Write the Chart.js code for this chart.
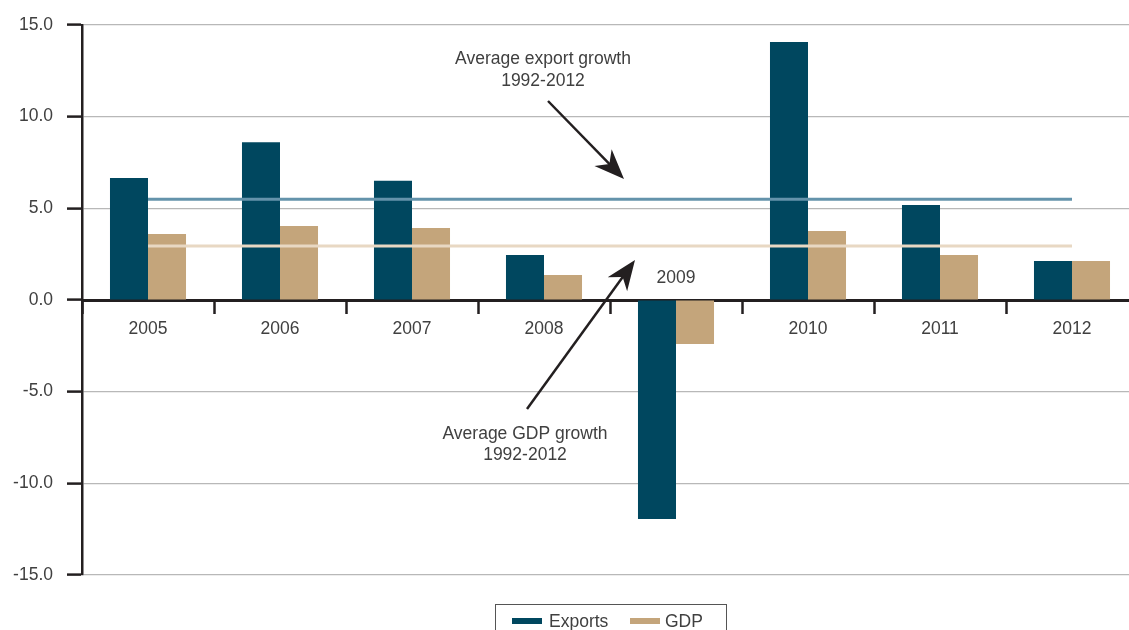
<!DOCTYPE html>
<html>
<head>
<meta charset="utf-8">
<script src="https://cdn.jsdelivr.net/npm/chart.js@4/dist/chart.umd.min.js"></script>
<style>
  html, body { margin: 0; padding: 0; background: #fff; overflow: hidden; }
  #wrap { width: 1140px; height: 640px; }
</style>
</head>
<body>
<div id="wrap"><canvas id="growthChart" width="1140" height="640"></canvas></div>
<script>
// Data
const years = ['2005', '2006', '2007', '2008', '2009', '2010', '2011', '2012'];
const exportsGrowth = [6.65, 8.6, 6.5, 2.45, -11.95, 14.07, 5.18, 2.13];
const gdpGrowth = [3.6, 4.04, 3.93, 1.36, -2.4, 3.76, 2.45, 2.13];
const avgExportGrowth = 5.5;
const avgGdpGrowth = 2.95;
const yTicks = [-15, -10, -5, 0, 5, 10, 15];

const FONT = '"Liberation Sans", Arial, sans-serif';
const FSIZE = 17.5;
const TEXT = '#404040';
const DARK = '#231f20';

// arrow helper
function arrow(ctx, x1, y1, x2, y2) {
    const ang = Math.atan2(y2 - y1, x2 - x1);
    const len = 30, half = 12;
    const cos = Math.cos(ang), sin = Math.sin(ang);
    const bx = x2 - len * cos, by = y2 - len * sin;
    ctx.save();
    ctx.strokeStyle = DARK;
    ctx.fillStyle = DARK;
    ctx.lineWidth = 2.5;
    ctx.beginPath();
    ctx.moveTo(x1, y1);
    ctx.lineTo(bx + 10 * cos, by + 10 * sin);
    ctx.stroke();
    ctx.beginPath();
    ctx.moveTo(x2, y2);
    ctx.lineTo(bx + half * sin, by - half * cos);
    ctx.lineTo(bx + 9 * cos, by + 9 * sin);
    ctx.lineTo(bx - half * sin, by + half * cos);
    ctx.closePath();
    ctx.fill();
    ctx.restore();
}

const extras = {
    id: 'extras',
    afterDraw(chart) {
        const ctx = chart.ctx;
        const x = chart.scales.x, y = chart.scales.y;
        ctx.save();
        ctx.font = FSIZE + 'px ' + FONT;
        ctx.fillStyle = TEXT;
        ctx.textAlign = 'center';
        ctx.textBaseline = 'middle';

        // 2009 label sits above the axis
        ctx.fillText(years[4], x.getPixelForValue(4), y.getPixelForValue(0) - 22);

        // annotations
        ctx.fillText('Average export growth', 543, 59);
        ctx.fillText('1992-2012', 543, 81);
        ctx.fillText('Average GDP growth', 525, 434);
        ctx.fillText('1992-2012', 525, 455);
        ctx.restore();

        arrow(ctx, 548, 101, 624, 179);
        arrow(ctx, 527, 409, 635, 260);

        // legend box
        ctx.save();
        ctx.strokeStyle = '#555';
        ctx.lineWidth = 1;
        ctx.strokeRect(495.5, 604.5, 231, 40);
        ctx.fillStyle = '#00475f';
        ctx.fillRect(512, 618, 30, 6);
        ctx.fillStyle = '#c4a57b';
        ctx.fillRect(630, 618, 30, 6);
        ctx.font = FSIZE + 'px ' + FONT;
        ctx.fillStyle = TEXT;
        ctx.textBaseline = 'middle';
        ctx.textAlign = 'left';
        ctx.fillText('Exports', 549, 622);
        ctx.fillText('GDP', 665, 622);
        ctx.restore();
    }
};

new Chart(document.getElementById('growthChart').getContext('2d'), {
    type: 'bar',
    data: {
        labels: years,
        datasets: [
            {
                type: 'line',
                label: 'Average export growth',
                data: years.map(() => avgExportGrowth),
                borderColor: '#6493ab',
                borderWidth: 3,
                pointRadius: 0,
                order: 0
            },
            {
                type: 'line',
                label: 'Average GDP growth',
                data: years.map(() => avgGdpGrowth),
                borderColor: '#e8d8c3',
                borderWidth: 3,
                pointRadius: 0,
                order: 0
            },
            {
                label: 'Exports',
                data: exportsGrowth,
                backgroundColor: '#00475f',
                categoryPercentage: 0.576,
                barPercentage: 1.0,
                order: 1
            },
            {
                label: 'GDP',
                data: gdpGrowth,
                backgroundColor: '#c4a57b',
                categoryPercentage: 0.576,
                barPercentage: 1.0,
                order: 1
            }
        ]
    },
    options: {
        responsive: false,
        animation: false,
        layout: { padding: { top: 25, bottom: 65, left: 0, right: 2 } },
        plugins: {
            legend: { display: false },
            tooltip: { enabled: false }
        },
        scales: {
            x: {
                position: { y: 0 },
                offset: true,
                grid: {
                    offset: true,
                    drawOnChartArea: false,
                    tickLength: 12,
                    tickColor: DARK,
                    tickWidth: 2.5
                },
                border: { color: DARK, width: 3 },
                ticks: {
                    font: { family: FONT, size: FSIZE },
                    color: (c) => c.index === 4 ? 'rgba(0,0,0,0)' : TEXT,
                    padding: 7,
                    maxRotation: 0
                }
            },
            y: {
                min: -15,
                max: 15,
                afterBuildTicks: (scale) => { scale.ticks = yTicks.map(v => ({ value: v })); },
                afterFit: (scale) => { scale.width = 82; },
                grid: {
                    color: (c) => c.tick && c.tick.value === 0 ? DARK : '#b8b8b8',
                    lineWidth: 1.2,
                    tickLength: 15,
                    tickColor: DARK,
                    tickWidth: 2.5
                },
                border: { color: DARK, width: 2.5 },
                ticks: {
                    font: { family: FONT, size: FSIZE },
                    color: TEXT,
                    padding: 14,
                    callback: (v) => Number(v).toFixed(1)
                }
            }
        }
    },
    plugins: [extras]
});
</script>
</body>
</html>
